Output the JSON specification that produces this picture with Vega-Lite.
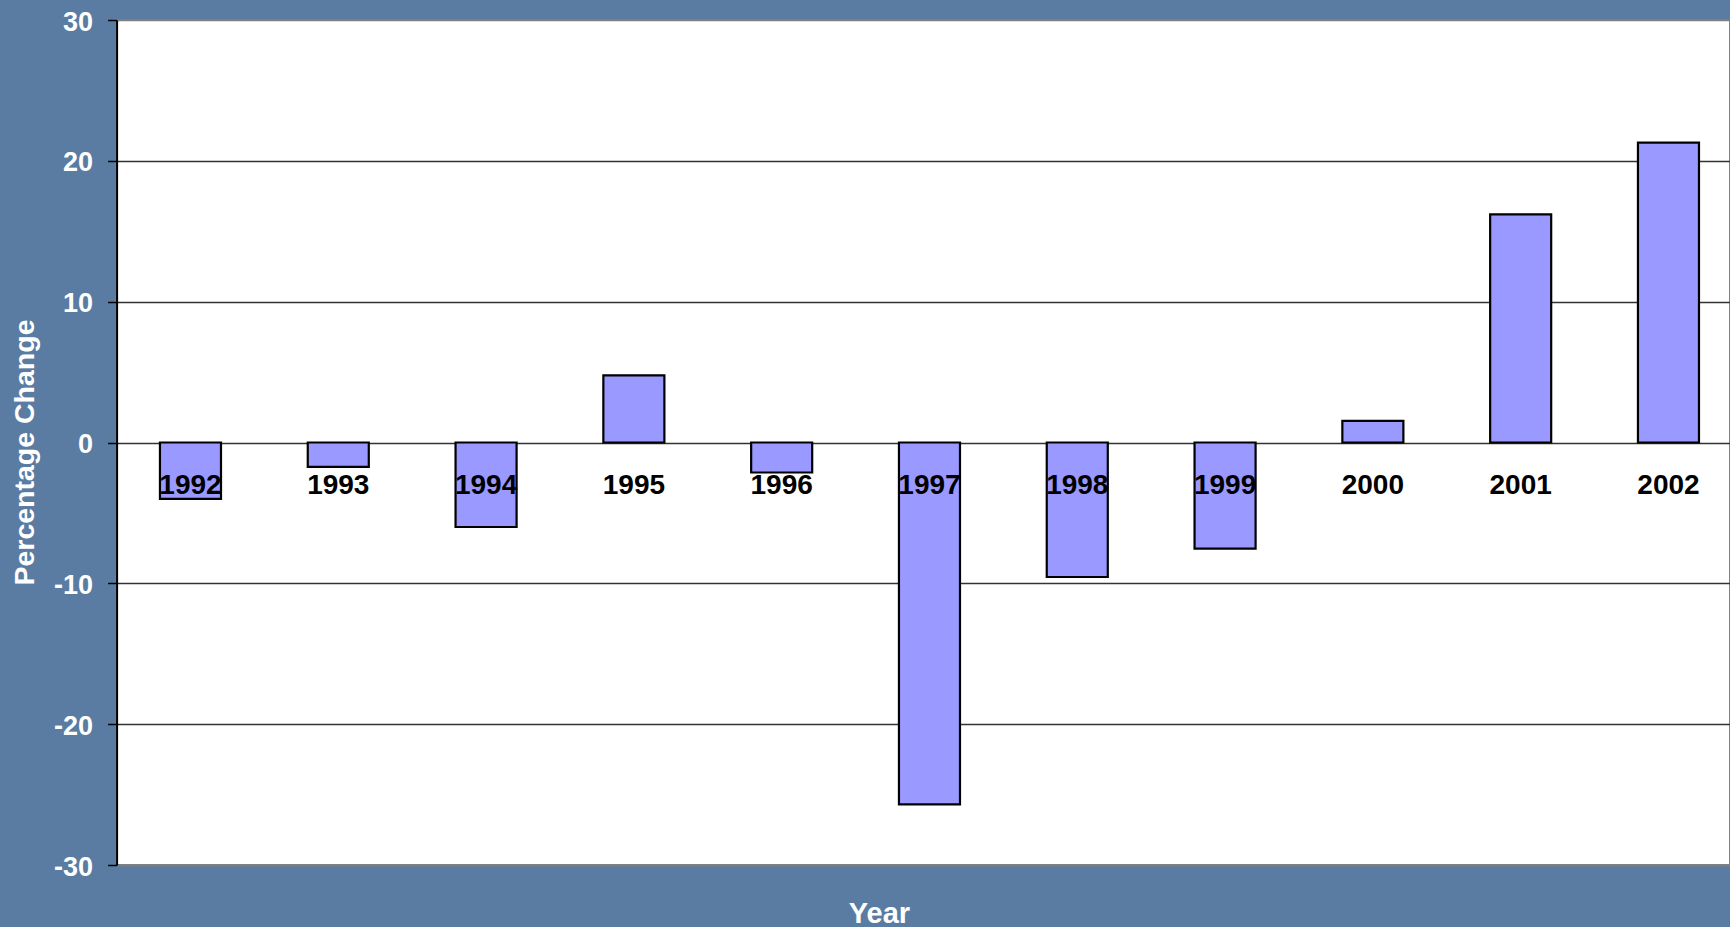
{
  "$schema": "https://vega.github.io/schema/vega-lite/v6.json",
  "autosize": {"type": "none"},
  "padding": {"left": 116.6, "top": 20, "right": 0, "bottom": 62},
  "width": 1613.4,
  "height": 845,
  "background": "#5a7ca2",
  "config": {
    "view": {"fill": "white", "stroke": "#7f7f7f", "strokeWidth": 2},
    "font": "Liberation Sans"
  },
  "data": {
    "values": [
      {"Year": "1992", "Change": -4.0},
      {"Year": "1993", "Change": -1.73},
      {"Year": "1994", "Change": -6.0},
      {"Year": "1995", "Change": 4.77},
      {"Year": "1996", "Change": -2.13},
      {"Year": "1997", "Change": -25.7},
      {"Year": "1998", "Change": -9.55},
      {"Year": "1999", "Change": -7.53},
      {"Year": "2000", "Change": 1.54},
      {"Year": "2001", "Change": 16.2},
      {"Year": "2002", "Change": 21.3}
    ]
  },
  "encoding": {
    "x": {
      "field": "Year",
      "type": "nominal",
      "sort": null,
      "scale": {"type": "band", "paddingInner": 0.587, "paddingOuter": 0.2516, "align": 0.583},
      "axis": {
        "title": "Year",
        "domain": false,
        "ticks": false,
        "labels": false,
        "grid": false,
        "titleFont": "Liberation Sans",
        "titleFontSize": 29,
        "titleFontWeight": "bold",
        "titleColor": "white",
        "titleX": 762.4,
        "titleY": 57,
        "titleAlign": "center",
        "titleBaseline": "alphabetic"
      }
    }
  },
  "layer": [
    {
      "mark": {"type": "bar", "fill": "#9999ff", "stroke": "black", "strokeWidth": 2.2},
      "encoding": {
        "y": {
          "field": "Change",
          "type": "quantitative",
          "scale": {"domain": [-30, 30], "nice": false, "zero": false},
          "axis": {
            "title": "Percentage Change",
            "values": [-30, -20, -10, 0, 10, 20, 30],
            "labelExpr": "'' + datum.value",
            "labelFont": "Liberation Sans",
            "labelFontSize": 27,
            "labelFontWeight": "bold",
            "labelColor": "white",
            "labelPadding": 15,
            "labelOffset": 2,
            "tickSize": 9,
            "tickColor": "black",
            "tickWidth": 1.5,
            "domainColor": "black",
            "domainWidth": 2,
            "grid": true,
            "gridColor": {"condition": {"test": "datum.value === 30 || datum.value === -30", "value": "#7f7f7f"}, "value": "#333333"},
            "gridWidth": 1.4,
            "gridOpacity": 1,
            "titleFont": "Liberation Sans",
            "titleFontSize": 28.5,
            "titleFontWeight": "bold",
            "titleColor": "white",
            "titleAngle": 270,
            "titleAlign": "center",
            "titleBaseline": "middle",
            "titleX": -92.6,
            "titleY": 432
          }
        }
      }
    },
    {
      "mark": {"type": "text", "font": "Liberation Sans", "fontSize": 28, "fontWeight": "bold", "color": "black", "baseline": "alphabetic", "align": "center", "dy": 51},
      "encoding": {
        "y": {"datum": 0, "type": "quantitative"},
        "text": {"field": "Year"}
      }
    }
  ]
}
